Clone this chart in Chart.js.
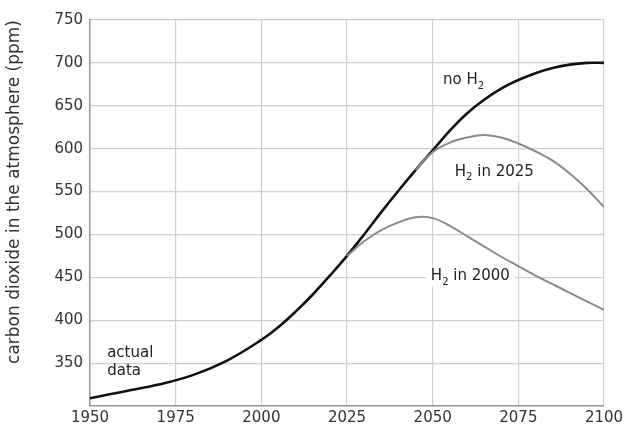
<!DOCTYPE html>
<html>
<head>
<meta charset="utf-8">
<script src="https://cdn.jsdelivr.net/npm/chart.js@4"></script>
<style>
  html, body { margin: 0; padding: 0; background: #fff; }
  #wrap { width: 631px; height: 430px; }
</style>
</head>
<body>
<div id="wrap"><canvas id="co2Chart"></canvas></div>
<script>
const years = [1950, 1960, 1970, 1980, 1990, 2000, 2005, 2010, 2015, 2020, 2025, 2030, 2035, 2040, 2045, 2050, 2055, 2060, 2065, 2070, 2075, 2080, 2085, 2090, 2095, 2100];
const noH2 = [309, 317, 325, 336, 353, 377, 392, 410, 430, 452, 475, 500, 526, 551, 575, 598, 621, 641, 657, 670, 680, 688, 694, 698, 700, 700];
const h2In2025 = [null, null, null, null, null, null, null, null, null, null, null, null, null, null, 575, 596, 607, 613, 616, 613, 606, 597, 586, 571, 553, 532];
const h2In2000 = [null, null, null, null, null, null, null, null, null, null, 475, 492, 505, 514, 520, 519, 510, 498, 486, 474, 463, 452, 442, 432, 422, 412];
const xTicks = [1950, 1975, 2000, 2025, 2050, 2075, 2100];
const yTicks = [350, 400, 450, 500, 550, 600, 650, 700, 750];

const FONT = "'DejaVu Sans', Verdana, sans-serif";

let toPoints = (vals) => years.map((y, i) => ({ x: y, y: vals[i] })).filter((p) => p.y !== null);

// labels placed at data positions: [text, subscript, rest, year, value]
const notes = [
  ["no H", "2", "", 2059, 680],
  ["H", "2", " in 2025", 2068, 573],
  ["H", "2", " in 2000", 2061, 451],
];

function measureNote(ctx, a, sub, b) {
  ctx.font = "15px " + FONT;
  let wa = ctx.measureText(a).width;
  let wb = ctx.measureText(b).width;
  ctx.font = "10px " + FONT;
  let ws = ctx.measureText(sub).width;
  return { wa, ws, wb, total: wa + ws + wb };
}

const notePlugin = {
  id: "notes",
  beforeDatasetsDraw(chart) {
    const { ctx, scales } = chart;
    ctx.save();
    ctx.fillStyle = "#fff";
    notes.forEach(([a, sub, b, yr, val]) => {
      let m = measureNote(ctx, a, sub, b);
      let x = scales.x.getPixelForValue(yr) - m.total / 2;
      let y = scales.y.getPixelForValue(val);
      ctx.fillRect(x - 5, y - 9, m.total + 10, 19);
    });
    ctx.restore();
  },
  afterDatasetsDraw(chart) {
    const { ctx, scales } = chart;
    ctx.save();
    ctx.fillStyle = "#222";
    ctx.textBaseline = "middle";
    ctx.textAlign = "left";
    notes.forEach(([a, sub, b, yr, val]) => {
      let m = measureNote(ctx, a, sub, b);
      let left = scales.x.getPixelForValue(yr) - m.total / 2;
      let y = scales.y.getPixelForValue(val);
      ctx.font = "15px " + FONT;
      ctx.fillText(a, left, y);
      ctx.font = "10px " + FONT;
      ctx.fillText(sub, left + m.wa, y + 6);
      ctx.font = "15px " + FONT;
      ctx.fillText(b, left + m.wa + m.ws, y);
    });
    let ax = scales.x.getPixelForValue(1955);
    ctx.font = "15px " + FONT;
    ctx.fillText("actual", ax, scales.y.getPixelForValue(362));
    ctx.fillText("data", ax, scales.y.getPixelForValue(341));
    ctx.restore();
  },
};

new Chart(document.getElementById("co2Chart").getContext("2d"), {
  type: "line",
  data: {
    datasets: [
      {
        label: "H2 in 2000",
        data: toPoints(h2In2000),
        borderColor: "#8a8a8a",
        borderWidth: 2,
        pointRadius: 0,
        tension: 0.4,
      },
      {
        label: "H2 in 2025",
        data: toPoints(h2In2025),
        borderColor: "#8a8a8a",
        borderWidth: 2,
        pointRadius: 0,
        tension: 0.4,
      },
      {
        label: "no H2",
        data: toPoints(noH2),
        borderColor: "#111",
        borderWidth: 2.6,
        pointRadius: 0,
        tension: 0.4,
      },
    ],
  },
  options: {
    responsive: true,
    maintainAspectRatio: false,
    animation: false,
    layout: { padding: { top: 20, right: 27, left: 4, bottom: 0 } },
    plugins: { legend: { display: false }, tooltip: { enabled: false } },
    scales: {
      x: {
        type: "linear",
        min: 1950,
        max: 2100,
        afterBuildTicks: (axis) => { axis.ticks = xTicks.map((v) => ({ value: v })); },
        grid: { color: "#cfcfcf", lineWidth: 1.2, drawTicks: false },
        border: { color: "#9a9a9a", width: 1.5 },
        ticks: { color: "#333", font: { family: FONT, size: 15 }, padding: 3, maxRotation: 0, callback: (v) => String(v) },
      },
      y: {
        min: 300,
        max: 750,
        afterBuildTicks: (axis) => { axis.ticks = [300].concat(yTicks).map((v) => ({ value: v })); },
        grid: { color: "#cfcfcf", lineWidth: 1.2, drawTicks: false },
        border: { color: "#9a9a9a", width: 1.5 },
        ticks: { color: "#333", font: { family: FONT, size: 15 }, padding: 7, callback: (v) => (v === 300 ? "" : String(v)) },
        title: { display: true, align: "end", text: "carbon dioxide in the atmosphere (ppm)", color: "#333", font: { family: FONT, size: 17 }, padding: { top: 0, bottom: 23 } },
      },
    },
  },
  plugins: [notePlugin],
});
</script>
</body>
</html>
